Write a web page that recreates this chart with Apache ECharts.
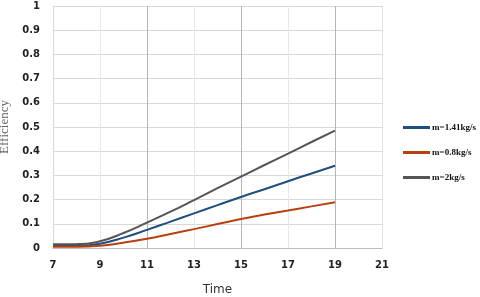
<!DOCTYPE html>
<html>
<head>
<meta charset="utf-8">
<script src="https://cdn.jsdelivr.net/npm/echarts@6/dist/echarts.min.js"></script>
<style>html,body{margin:0;padding:0;background:#fff}#c{width:480px;height:297px}</style>
</head>
<body>
<div id="c"></div>
<script>
var times = [7, 8, 9, 10, 11, 12, 13, 14, 15, 16, 17, 18, 19];
var eff141 = [0.008, 0.009, 0.018, 0.043, 0.075, 0.109, 0.143, 0.177, 0.211, 0.243, 0.276, 0.308, 0.34];
var eff08 = [0.005, 0.005, 0.009, 0.022, 0.038, 0.058, 0.078, 0.099, 0.12, 0.138, 0.155, 0.172, 0.189];
var eff2 = [0.015, 0.016, 0.028, 0.062, 0.105, 0.15, 0.198, 0.247, 0.295, 0.343, 0.39, 0.438, 0.485];
var seriesNames = ['m=1.41kg/s', 'm=0.8kg/s', 'm=2kg/s'];

function pairs(ys) { return times.map(function (t, i) { return [t, ys[i]]; }); }

var chart = echarts.init(document.getElementById('c'));
chart.setOption({
  animation: false,
  backgroundColor: '#fff',
  grid: { left: 53, right: 98, top: 6, bottom: 49, outerBoundsMode: 'none', containLabel: false },
  legend: {
    orient: 'vertical', left: 398, top: 118, itemWidth: 27, itemHeight: 3, itemGap: 16,
    icon: 'rect',
    textStyle: { fontFamily: 'Liberation Serif', fontWeight: 'bold', fontSize: 9, color: '#111', padding: [0, 0, 0, -3] },
    data: seriesNames
  },
  xAxis: {
    type: 'value', min: 7, max: 21, interval: 2,
    name: 'Time', nameLocation: 'middle', nameGap: 36,
    nameTextStyle: { fontFamily: 'DejaVu Sans', fontSize: 12, color: '#333' },
    axisLine: { lineStyle: { color: '#bdbdbd', width: 1 } },
    axisTick: { show: false },
    axisLabel: { fontFamily: 'DejaVu Sans', fontWeight: 'bold', fontSize: 10, color: '#222', margin: 12 },
    splitLine: { show: true, lineStyle: { color: ['#e8e8e8', '#e8e8e8', '#b5b5b5', '#e8e8e8', '#b5b5b5', '#e8e8e8', '#b5b5b5', '#e0e0e0'], width: 1 } }
  },
  yAxis: {
    type: 'value', min: 0, max: 1, interval: 0.1,
    name: 'Efficiency', nameLocation: 'middle', nameGap: 35,
    nameTextStyle: { fontFamily: 'Liberation Serif', fontSize: 13, color: '#666' },
    axisLine: { show: true, lineStyle: { color: '#d9d9d9' } },
    axisTick: { show: false },
    axisLabel: { fontFamily: 'DejaVu Sans', fontWeight: 'bold', fontSize: 10, color: '#222', margin: 13,
      formatter: function (v) { return String(+v.toFixed(1)); } },
    splitLine: { lineStyle: { color: '#d9d9d9', width: 1 } }
  },
  series: [
    { name: seriesNames[0], type: 'line', smooth: true, symbol: 'none', data: pairs(eff141), lineStyle: { color: '#1f4e80', width: 2 }, itemStyle: { color: '#1f4e80' } },
    { name: seriesNames[1], type: 'line', smooth: true, symbol: 'none', data: pairs(eff08), lineStyle: { color: '#b8400e', width: 2 }, itemStyle: { color: '#b8400e' } },
    { name: seriesNames[2], type: 'line', smooth: true, symbol: 'none', data: pairs(eff2), lineStyle: { color: '#555555', width: 2 }, itemStyle: { color: '#555555' } }
  ]
});
</script>
</body>
</html>
